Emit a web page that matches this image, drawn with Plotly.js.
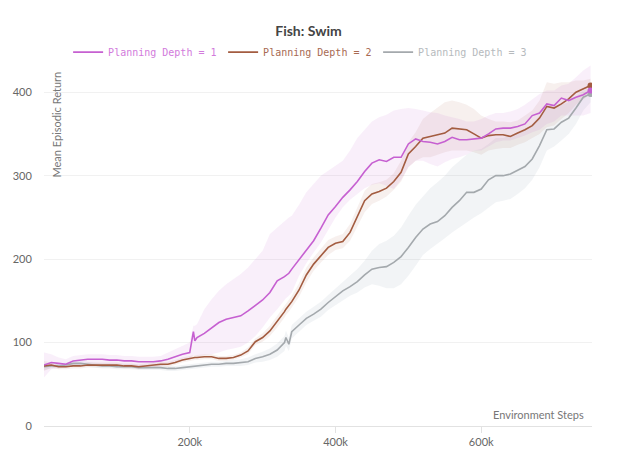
<!DOCTYPE html>
<html>
<head>
<meta charset="utf-8">
<script src="https://cdn.plot.ly/plotly-3.0.1.min.js"></script>
<style>html,body{margin:0;padding:0;background:#fff;}#chart{width:617px;height:461px;}</style>
</head>
<body>
<div id="chart"></div>
<script>
// Environment steps, in thousands
var stepsK = [0,10,20,30,40,50,60,70,80,90,100,110,120,130,140,150,160,170,180,190,200,205,207,
  210,220,230,240,250,260,270,280,290,300,310,320,330,332,336,
  340,350,360,370,380,390,400,410,420,430,440,450,460,470,480,490,500,510,520,530,540,550,
  560,570,580,590,600,610,620,630,640,650,660,670,680,690,700,710,720,730,740,750];

var seriesNames = ["Planning Depth = 1", "Planning Depth = 2", "Planning Depth = 3"];

// Planning Depth = 1
var depth1Mean = [73,76,75,74,78,79,80,80,80,79,79,78,78,77,77,77,78,80,83,86,88,113,102,
  106,111,117,124,128,130,132,138,145,151,160,174,179,180,183,
  188,199,210,222,237,253,263,274,283,293,305,315,319,317,322,322,338,344,341,340,338,341,
  346,343,343,344,345,350,356,357,357,359,362,372,375,386,384,393,390,394,397,402];
var depth1Lo = [58,68,70,70,72,73,74,74,74,73,73,72,72,71,71,71,72,73,76,78,80,85,85,
  84,85,86,88,91,93,95,100,108,118,130,140,152,153,156,
  160,180,195,208,220,235,250,262,271,278,285,289,291,288,284,295,310,318,318,314,311,316,
  320,322,325,330,330,335,340,342,342,345,348,352,355,362,365,372,372,372,372,375];
var depth1Hi = [88,86,82,80,84,85,86,86,86,85,85,84,84,83,83,83,84,88,92,96,100,120,120,
  122,140,152,162,170,176,182,190,200,210,230,238,246,248,250,
  252,265,280,290,300,306,312,318,330,345,355,365,370,373,378,380,381,380,378,376,375,372,
  370,368,365,365,368,372,375,375,377,380,385,392,398,402,402,408,410,418,426,432];

// Planning Depth = 2
var depth2Mean = [72,73,71,71,72,72,73,73,73,73,73,72,72,71,72,73,74,74,76,79,81,82,82,
  82,83,83,81,81,82,85,90,101,106,114,125,137,140,144,
  149,163,181,194,204,214,219,221,232,252,270,278,281,285,293,304,326,335,345,347,349,351,
  357,356,355,350,345,348,349,349,347,351,355,360,369,383,381,386,392,400,404,408];
var depth2Lo = [66,70,68,68,69,69,70,70,70,70,70,69,69,68,69,70,71,71,73,76,78,79,79,
  79,80,80,78,78,79,82,86,97,101,108,118,130,133,137,
  142,155,172,186,196,205,211,213,222,240,256,266,270,275,283,293,310,318,322,322,325,328,
  330,330,330,328,325,330,332,333,333,337,340,345,350,358,360,368,375,385,392,398];
var depth2Hi = [78,76,74,74,75,75,76,76,76,76,76,75,75,74,75,76,77,77,79,82,84,85,85,
  85,86,86,84,84,85,88,94,105,111,120,132,144,147,151,
  156,171,190,202,212,223,227,230,242,262,282,290,292,295,303,318,340,352,368,375,382,388,
  390,388,385,380,372,368,365,365,364,366,372,378,390,412,410,412,412,414,414,416];

// Planning Depth = 3
var depth3Mean = [71,72,72,73,75,75,74,73,72,72,71,71,71,70,70,70,70,69,69,70,71,72,72,
  72,73,74,74,75,75,76,77,81,83,86,91,100,106,98,
  113,121,129,134,140,148,155,162,167,173,181,188,190,191,196,203,214,226,236,242,245,252,
  262,270,280,280,284,295,300,300,302,307,311,320,336,355,356,364,369,381,394,398];
var depth3Lo = [67,69,69,70,72,72,71,70,69,69,68,68,68,67,67,67,67,66,66,67,68,69,69,
  69,70,71,71,72,72,72,73,76,77,79,83,90,96,90,
  105,113,121,126,131,139,145,151,156,160,166,170,168,165,165,170,180,192,205,212,218,225,
  232,238,245,250,255,262,268,270,272,278,285,295,310,330,335,342,350,362,378,388];
var depth3Hi = [75,75,75,76,78,78,77,76,75,75,74,74,74,73,73,73,73,72,72,73,74,75,75,
  75,76,77,77,78,79,80,82,86,89,93,99,108,114,106,
  121,129,137,143,149,157,165,173,180,188,198,210,218,222,228,238,252,265,275,285,292,300,
  310,318,325,330,332,338,345,345,348,352,355,362,372,382,380,385,388,395,402,405];

var xTickVals = [200000, 400000, 600000];
var xTickText = ["200k", "400k", "600k"];
var yTickVals = [0, 100, 200, 300, 400];

var lineColors = ["#c660d1", "#a35c40", "#a4a9ad"];
var textColors = ["#d27bdc", "#a86a52", "#b6babd"];
var bandColors = ["rgba(198,96,209,0.10)", "rgba(163,92,64,0.09)", "rgba(150,165,180,0.12)"];

var steps = stepsK.map(function(k){ return k * 1000; });
var means = [depth1Mean, depth2Mean, depth3Mean];
var los = [depth1Lo, depth2Lo, depth3Lo];
var his = [depth1Hi, depth2Hi, depth3Hi];

var traces = [];
// bands
[2,1,0].forEach(function(i){
  traces.push({x: steps, y: los[i], mode: 'lines', line: {width: 0, color: bandColors[i]},
    showlegend: false, hoverinfo: 'skip'});
  traces.push({x: steps, y: his[i], mode: 'lines', line: {width: 0, color: bandColors[i]},
    fill: 'tonexty', fillcolor: bandColors[i], showlegend: false, hoverinfo: 'skip'});
});
// lines (drawn grey, brown, pink; legend reversed so it reads 1, 2, 3)
[2,1,0].forEach(function(i){
  traces.push({x: steps, y: means[i], mode: 'lines',
    name: '<span style="color:' + textColors[i] + '">' + seriesNames[i] + '</span>',
    line: {color: lineColors[i], width: 1.6}});
});
// end markers
[2,1,0].forEach(function(i){
  var n = steps.length - 1;
  traces.push({x: [steps[n]], y: [means[i][n]], mode: 'markers', showlegend: false,
    marker: {color: lineColors[i], size: 6}, hoverinfo: 'skip'});
});

var layout = {
  width: 617, height: 461,
  margin: {l: 44, r: 25, t: 63, b: 35},
  paper_bgcolor: '#fff', plot_bgcolor: '#fff',
  font: {family: 'Lato, "Open Sans", sans-serif', color: '#666', size: 11},
  title: {text: '<b>Fish: Swim</b>', x: 0.5, xref: 'container', xanchor: 'center',
    y: 1 - 31 / 461, yref: 'container', yanchor: 'middle',
    font: {family: 'Lato, sans-serif', size: 14, color: '#444'}},
  showlegend: true,
  legend: {orientation: 'h', traceorder: 'reversed', x: 0.044, xanchor: 'left', y: 1.03, yanchor: 'middle',
    entrywidth: 110, entrywidthmode: 'pixels',
    font: {family: '"DejaVu Sans Mono", monospace', size: 10},
    bgcolor: 'rgba(0,0,0,0)'},
  xaxis: {range: [0, 752000], tickvals: xTickVals, ticktext: xTickText,
    showgrid: false, zeroline: false, showline: true, linecolor: '#e2e2e2', linewidth: 1,
    ticks: 'outside', ticklen: 6, tickcolor: '#e2e2e2', tickfont: {size: 11, color: '#666'}},
  yaxis: {range: [0, 435], tickvals: yTickVals, showgrid: true, gridcolor: '#f1f1f1',
    zeroline: false, showline: false, ticks: 'outside', ticklen: 9, tickcolor: 'rgba(0,0,0,0)',
    tickfont: {size: 11, color: '#666'}},
  annotations: [
    {text: 'Mean Episodic Return', xref: 'paper', yref: 'paper', x: 0, y: 1,
      xanchor: 'left', yanchor: 'top', xshift: 3, yshift: -7, textangle: -90,
      showarrow: false, font: {size: 11, color: '#777'}},
    {text: 'Environment Steps', xref: 'paper', yref: 'paper', x: 1, y: 0,
      xanchor: 'right', yanchor: 'bottom', xshift: -6, yshift: 3,
      showarrow: false, font: {size: 11, color: '#777'}}
  ]
};

Plotly.newPlot('chart', traces, layout, {displayModeBar: false, staticPlot: true});
</script>
</body>
</html>
